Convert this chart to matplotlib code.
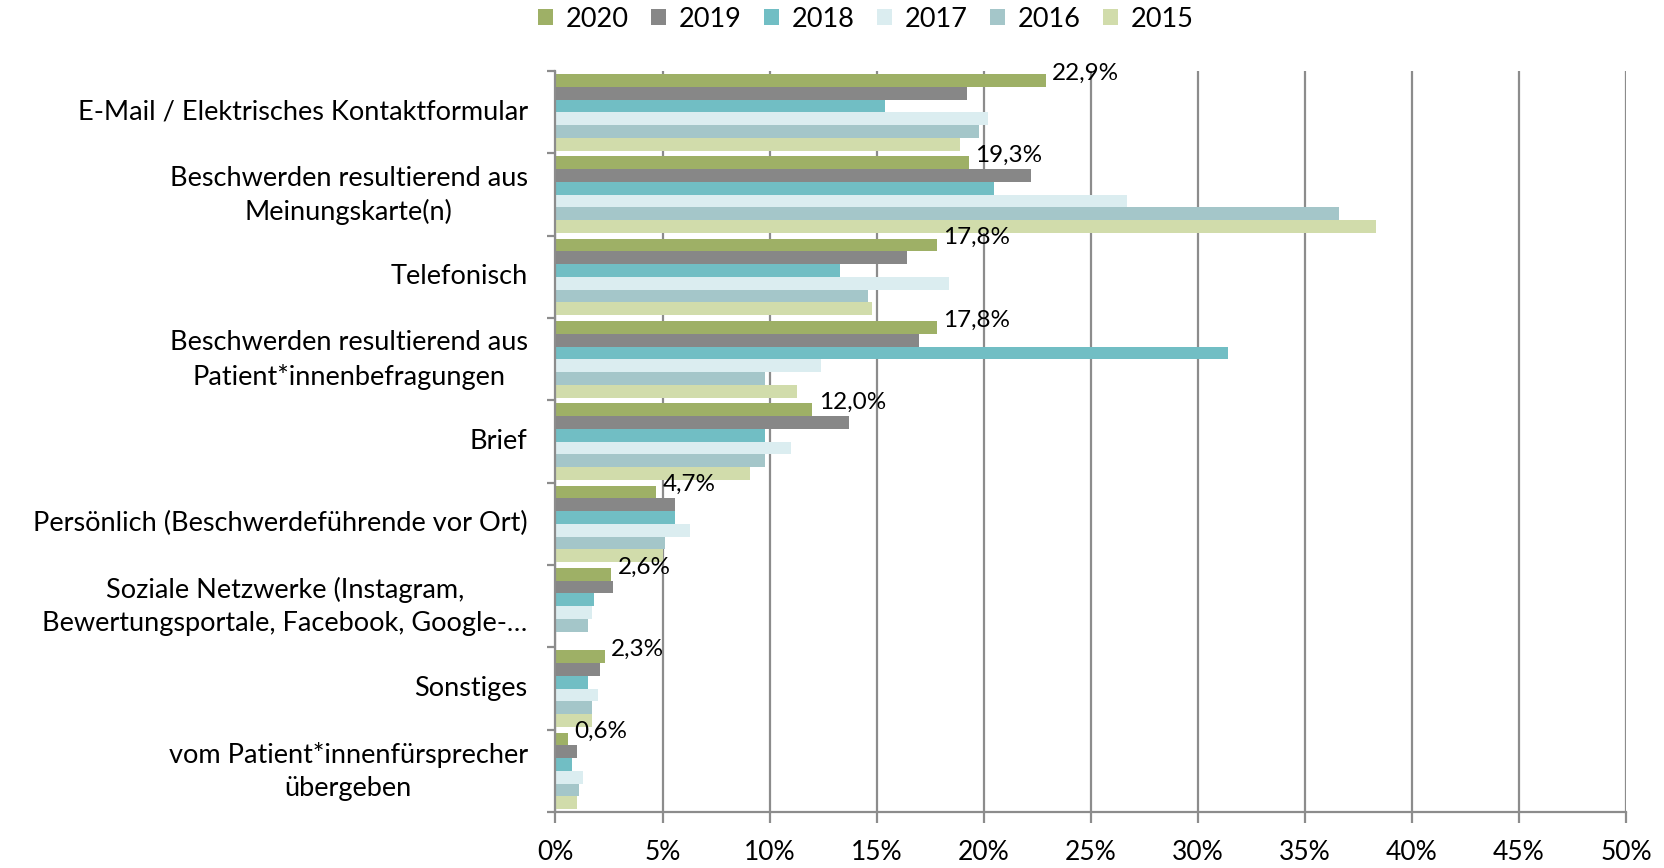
import numpy as np
import matplotlib
matplotlib.use("Agg")
import matplotlib.pyplot as plt
import matplotlib.transforms as mtransforms
from matplotlib.ticker import FixedLocator

plt.rcParams['font.family'] = ['Lato', 'DejaVu Sans']

categories = [
    "E-Mail / Elektrisches Kontaktformular",
    "Beschwerden resultierend aus\nMeinungskarte(n)",
    "Telefonisch",
    "Beschwerden resultierend aus\nPatient*innenbefragungen",
    "Brief",
    "Persönlich (Beschwerdeführende vor Ort)",
    "Soziale Netzwerke (Instagram,\nBewertungsportale, Facebook, Google-…",
    "Sonstiges",
    "vom Patient*innenfürsprecher\nübergeben",
]
years = ["2020", "2019", "2018", "2017", "2016", "2015"]

v2020 = [22.9, 19.3, 17.8, 17.8, 12.0, 4.7, 2.6, 2.3, 0.6]
v2019 = [19.2, 22.2, 16.4, 17.0, 13.7, 5.6, 2.7, 2.1, 1.0]
v2018 = [15.4, 20.5, 13.3, 31.4, 9.8, 5.6, 1.8, 1.5, 0.75]
v2017 = [20.2, 26.7, 18.4, 12.4, 11.0, 6.3, 1.7, 2.0, 1.3]
v2016 = [19.8, 36.6, 14.6, 9.8, 9.8, 5.1, 1.5, 1.7, 1.1]
v2015 = [18.9, 38.3, 14.8, 11.3, 9.1, 5.0, 0.0, 1.7, 1.0]
labels_2020 = ["22,9%", "19,3%", "17,8%", "17,8%", "12,0%", "4,7%", "2,6%", "2,3%", "0,6%"]

series = [v2020, v2019, v2018, v2017, v2016, v2015]
colors = ["#9eb066", "#878787", "#71bec4", "#dbedf0", "#a4c6c9", "#d1dcab"]

fig = plt.figure(figsize=(16.65, 8.68), dpi=100)
ax = fig.add_axes([0.3336, 0.0645, 0.6430, 0.8535])

n = len(categories)
idx = np.arange(n)
bar_h = 0.155
offsets = (np.arange(6) - 2.5) * bar_h

for i, (vals, c, yr) in enumerate(zip(series, colors, years)):
    ax.barh(idx + offsets[i], vals, height=bar_h, color=c, label=yr, zorder=2)

# data labels for 2020
for j, (v, t) in enumerate(zip(v2020, labels_2020)):
    ax.text(v + 0.3, idx[j] + offsets[0] - 0.09, t, va="center", ha="left",
            fontsize=17.5, color="black", zorder=3)

ax.set_xlim(0, 50)
ax.set_ylim(n - 0.5, -0.5)

ax.set_xticks(np.arange(0, 51, 5))
ax.set_xticklabels([f"{x}%" for x in range(0, 51, 5)], fontsize=19)
ax.xaxis.grid(True, color="#8c8c8c", linewidth=1.6, zorder=0)
ax.set_axisbelow(True)

ax.set_yticks(idx)
ax.set_yticklabels(categories, fontsize=19.5, linespacing=1.4)
ax.yaxis.set_minor_locator(FixedLocator(np.arange(-0.5, n, 1)))
ax.tick_params(axis="y", which="major", length=0, pad=20)
ax.tick_params(axis="y", which="minor", length=6, color="#8c8c8c", width=1.6)
ax.tick_params(axis="x", which="major", length=8, color="#8c8c8c", width=1.6, pad=12)

for s in ["top", "right"]:
    ax.spines[s].set_visible(False)
for s in ["left", "bottom"]:
    ax.spines[s].set_color("#8c8c8c")
    ax.spines[s].set_linewidth(1.6)

# nudge category labels up a little
shift_single = mtransforms.ScaledTranslation(0, 3 / 100, fig.dpi_scale_trans)
shift_multi = mtransforms.ScaledTranslation(0, 6 / 100, fig.dpi_scale_trans)
for lbl in ax.get_yticklabels():
    lbl.set_multialignment("center")
    sh = shift_multi if "\n" in lbl.get_text() else shift_single
    lbl.set_transform(lbl.get_transform() + sh)

fig.legend(loc="center", bbox_to_anchor=(0.52, 0.978), ncol=6, frameon=False,
           fontsize=19.5, handlelength=0.55, handleheight=0.55, handletextpad=0.45,
           columnspacing=0.85)

fig.savefig("out.png", dpi=100)
